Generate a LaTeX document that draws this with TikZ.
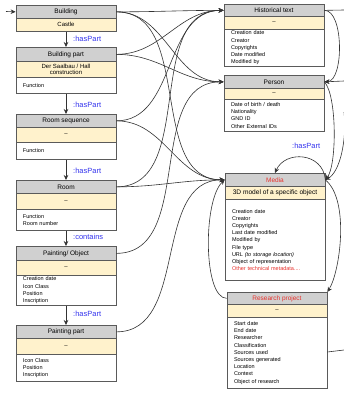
\documentclass[tikz,border=0pt]{standalone}
\usepackage{fontspec}
\setmainfont{Liberation Sans}
\usetikzlibrary{arrows.meta}
\definecolor{hdrgray}{HTML}{D0D0D0}
\definecolor{bandyel}{HTML}{FFF2CC}
\definecolor{boxline}{HTML}{5A5A5A}
\definecolor{linecol}{HTML}{333333}
\definecolor{redtxt}{HTML}{E8322D}
\definecolor{bluetxt}{HTML}{3333EE}
\tikzset{
  part/.style={draw=boxline, line width=0.7pt, minimum width=100pt, inner sep=0pt, anchor=north},
  hdr/.style={part, fill=hdrgray, font=\fontsize{6.5}{7.5}\selectfont},
  band/.style={part, fill=bandyel, font=\fontsize{6}{6.6}\selectfont, align=center},
  bodybox/.style={part, fill=white, inner xsep=7pt, text width=86pt, align=left, font=\fontsize{5.5}{7.2}\selectfont},
  rel/.style={text=bluetxt, anchor=west, font=\fontsize{7.5}{8}\selectfont, inner sep=0pt},
  conn/.style={draw=linecol, line width=0.6pt, -{Stealth[length=5pt,width=4.5pt]}},
  plain/.style={draw=linecol, line width=0.6pt}
}
\begin{document}
\begin{tikzpicture}[x=1pt,y=-1pt]
\useasboundingbox[fill=white] (0,0) rectangle (344,394);

% ---------- left column ----------
\node[hdr, minimum height=13pt] (b-h) at (66,5) {Building};
\node[band, minimum height=13pt] (b-y) at (66,18) {Castle};

\node[hdr, minimum height=14pt] (bp-h) at (66,47) {Building part};
\node[band, minimum height=16pt] (bp-y) at (66,61) {Der Saalbau / Hall\\construction};
\node[bodybox, minimum height=16pt] (bp-b) at (66,77) {Function};

\node[hdr, minimum height=13pt] (rs-h) at (66,114) {Room sequence};
\node[band, minimum height=15pt] (rs-y) at (66,127) {--};
\node[bodybox, minimum height=17pt] (rs-b) at (66,142) {Function};

\node[hdr, minimum height=13pt] (ro-h) at (66,180) {Room};
\node[band, minimum height=16pt] (ro-y) at (66,193) {--};
\node[bodybox, minimum height=21pt] (ro-b) at (66,209) {Function\\Room number};

\node[hdr, minimum height=14pt] (po-h) at (66,246) {Painting/ Object};
\node[band, minimum height=15pt] (po-y) at (66,260) {--};
\node[bodybox, minimum height=30pt] (po-b) at (66,275) {Creation date\\Icon Class\\Position\\Inscription};

\node[hdr, minimum height=13pt] (pp-h) at (66,325) {Painting part};
\node[band, minimum height=16pt] (pp-y) at (66,338) {--};
\node[bodybox, minimum height=27pt] (pp-b) at (66,354) {Icon Class\\Position\\Inscription};

% ---------- right column ----------
\node[hdr, minimum height=12pt] (ht-h) at (274,4) {Historical text};
\node[band, minimum height=13pt] (ht-y) at (274,16) {--};
\node[bodybox, minimum height=37pt] (ht-b) at (274,29) {Creation date\\Creator\\Copyrights\\Date modified\\Modified by};

\node[hdr, minimum height=13pt] (pe-h) at (274,75) {Person};
\node[band, minimum height=11pt] (pe-y) at (274,88) {--};
\node[bodybox, minimum height=32pt] (pe-b) at (274,99) {Date of birth / death\\Nationality\\GND ID\\Other External IDs};

\node[hdr, minimum height=13pt, text=redtxt] (me-h) at (275,173) {Media};
\node[band, minimum height=13pt, font=\fontsize{6.6}{7.5}\selectfont] (me-y) at (275,186) {3D model of a specific object};
\node[bodybox, minimum height=81pt] (me-b) at (275,199) {Creation date\\Creator\\Copyrights\\Last date modified\\Modified by\\File type\\URL \textit{(to storage location)}\\Object of representation\\\textcolor{redtxt}{Other technical metadata....}};

\node[hdr, minimum height=12pt, text=redtxt] (rp-h) at (277,292) {Research project};
\node[band, minimum height=13pt] (rp-y) at (277,304) {--};
\node[bodybox, minimum height=71pt] (rp-b) at (277,317) {Start date\\End date\\Researcher\\Classification\\Sources used\\Sources generated\\Location\\Context\\Object of research};

% ---------- vertical part-of arrows ----------
\draw[conn] (b-y.south) -- (bp-h.north);
\draw[conn] (bp-b.south) -- (rs-h.north);
\draw[conn] (rs-b.south) -- (ro-h.north);
\draw[conn] (ro-b.south) -- (po-h.north);
\draw[conn] (po-b.south) -- (pp-h.north);
\node[rel] (l1) at (73,39) {:hasPart};
\node[rel] (l2) at (73,105) {:hasPart};
\node[rel] (l3) at (73,171) {:hasPart};
\node[rel] (l4) at (73,237) {:contains};
\node[rel] (l5) at (73,314) {:hasPart};

% ---------- crossing connectors ----------
\draw[conn] (b-h.east) to[out=0,in=180] (ht-h.west);
\draw[conn] (b-h.east) to[out=0,in=180] (pe-h.west);
\draw[conn] (b-h.east) to[out=0,in=180] (me-h.west);
\draw[conn] (bp-h.east) to[out=0,in=180] (ht-h.west);
\draw[conn] (bp-h.east) to[out=0,in=180] (pe-h.west);
\draw[conn] (rs-h.east) to[out=0,in=180] (ht-h.west);
\draw[conn] (rs-h.east) to[out=0,in=180] (me-h.west);
\draw[conn] (ro-h.east) to[out=0,in=180] (ht-h.west);
\draw[conn] (ro-h.east) to[out=0,in=180] (me-h.west);
\draw[conn] (po-h.east) to[out=0,in=180] (pe-h.west);
\draw[conn] (pp-h.east) to[out=0,in=180] (me-h.west);
\draw[conn] (rp-h.west) .. controls (203,298) and (203,200) .. (me-h.west);

% ---------- right side ----------
\coordinate (eHt) at (344,10);
\coordinate (ePe) at (344,81);
\coordinate (eMe) at (344,112);
\coordinate (eRp) at (344,350);
\coordinate (eB) at (6,11.5);
\draw[conn] (eB) -- (b-h.west);
\draw[plain] (ht-h.east) -- (eHt);
\draw[conn] (ht-h.east) .. controls (344,10) and (344,81) .. (pe-h.east);
\draw[conn] (ePe) -- (pe-h.east);
\draw[conn] (pe-h.east) .. controls (337,95) and (337,165) .. (me-h.east);
\draw[conn] (eMe) .. controls (347,140) and (340,172) .. (me-h.east);
\draw[conn] (me-h.east) .. controls (323,152) and (285,150) .. (me-h.north);
\node[rel] (l6) at (292,146) {:hasPart};
\draw[conn] (me-h.east) .. controls (350,200) and (340,272) .. (rp-h.north east);
\draw[plain] (rp-b.east |- 0,352) -- (eRp);
\end{tikzpicture}
\end{document}
